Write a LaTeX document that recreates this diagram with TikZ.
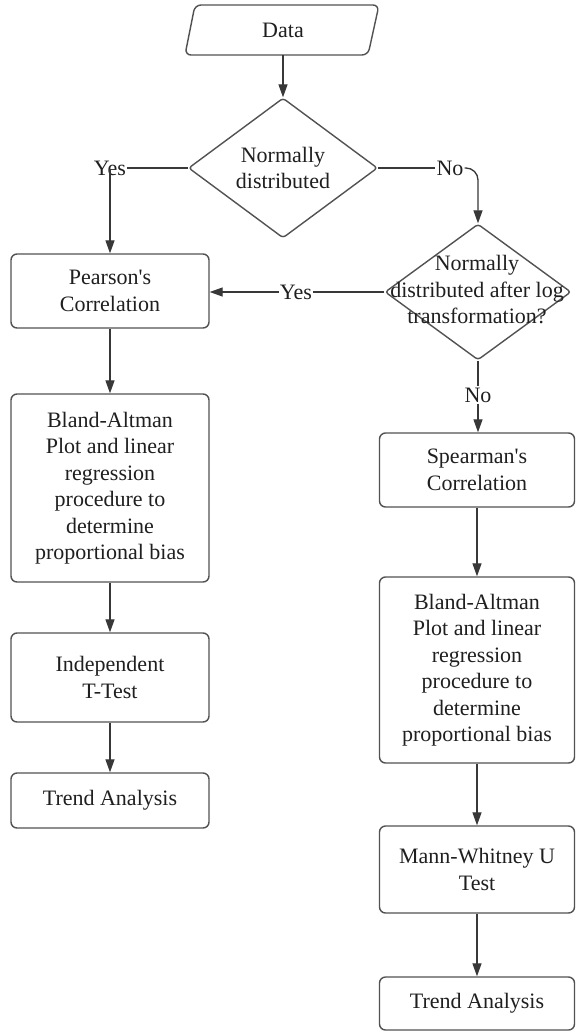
\documentclass[tikz,border=0pt]{standalone}
\usepackage{fontspec}
\setmainfont{Liberation Serif}
\usetikzlibrary{shapes.geometric,arrows.meta}
\begin{document}
\begin{tikzpicture}[x=1pt,y=-1pt,
  txt/.style={font=\fontsize{22}{26.5}\selectfont, text=black!88},
  box/.style={txt, draw=black!68, line width=1.4pt, rounded corners=6pt, fill=white, align=center, inner sep=2pt},
  lbox/.style={box, minimum width=198pt},
  rbox/.style={box, minimum width=195pt},
  dia/.style={draw=black!68, line width=1.4pt, diamond, inner sep=0pt, rounded corners=3pt},
  lab/.style={txt, inner sep=1pt},
  conn/.style={draw=black!78, line width=1.3pt},
  arr/.style={conn, -{Triangle[length=13pt,width=9pt]}},
]
\fill[white] (0,0) rectangle (576,1031);
\useasboundingbox (0,0) rectangle (576,1031);

% Data parallelogram
\draw[draw=black!68, line width=1.4pt, rounded corners=6pt] (195,5) -- (379,5) -- (368,55) -- (185,55) -- cycle;
\node[txt, minimum height=50pt, minimum width=150pt, inner sep=0pt] (data) at (283,30) {Data};

% decisions
\node[dia, minimum width=189pt, minimum height=140pt] (d1) at (283,168) {};
\node[txt, align=center] (d1t) at (283,168) {Normally\\distributed};
\node[dia, minimum width=186pt, minimum height=136pt] (d2) at (478,292) {};
\node[txt, align=center] (d2t) at (477,290) {Normally\\distributed after log\\transformation?};

% left column
\node[lbox, minimum height=74pt] (pear) at (110,291) {Pearson\textquotesingle s\\Correlation};
\node[lbox, minimum height=188pt] (bal) at (110,488) {Bland-Altman\\Plot and linear\\regression\\procedure to\\determine\\proportional bias};
\node[lbox, minimum height=89pt] (ind) at (110,677.5) {Independent\\T-Test};
\node[lbox, minimum height=55pt] (trl) at (110,800.5) {Trend Analysis};

% right column
\node[rbox, minimum height=74pt] (spear) at (477,470) {Spearman\textquotesingle s\\Correlation};
\node[rbox, minimum height=186pt] (bar) at (477,670) {Bland-Altman\\Plot and linear\\regression\\procedure to\\determine\\proportional bias};
\node[rbox, minimum height=87pt] (mann) at (477,869.5) {Mann-Whitney U\\Test};
\node[rbox, minimum height=53pt] (trr) at (477,1003.5) {Trend Analysis};

% labels
\node[lab] (yes1) at (110,168) {Yes};
\node[lab] (no1) at (450,168) {No};
\node[lab] (yes2) at (296,292) {Yes};
\node[lab] (no2) at (478,395) {No};

% connectors
\draw[arr] (data.south) -- (d1.north);
\draw[conn] (d1.west) -- (yes1.east);
\draw[arr] ([yshift=8pt]yes1.south) -- (pear.north);
\draw[conn] (d1.east) -- (no1.west);
\draw[arr, rounded corners=12pt] (no1.east) -| (d2.north);
\draw[conn] (d2.west) -- (yes2.east);
\draw[arr] (yes2.west) -- (pear.east |- yes2.west);
\draw[conn] (d2.south) -- (no2.north);
\draw[arr] (no2.south) -- (spear.north -| no2.south);
\draw[arr] (pear.south) -- (bal.north);
\draw[arr] (bal.south) -- (ind.north);
\draw[arr] (ind.south) -- (trl.north);
\draw[arr] (spear.south) -- (bar.north);
\draw[arr] (bar.south) -- (mann.north);
\draw[arr] (mann.south) -- (trr.north);
\end{tikzpicture}
\end{document}
